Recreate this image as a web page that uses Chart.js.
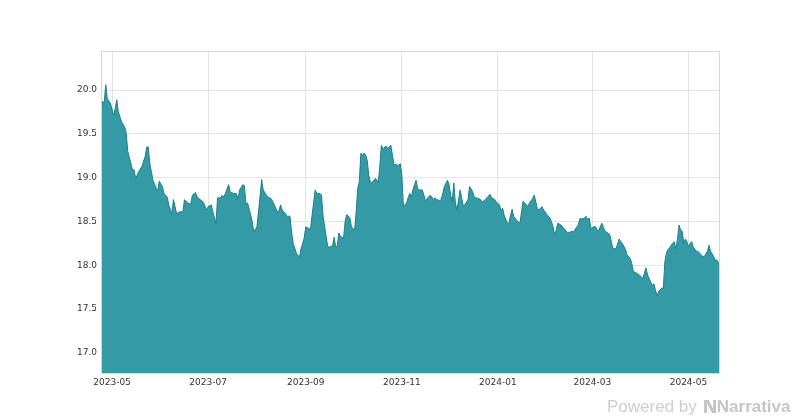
<!DOCTYPE html>
<html>
<head>
<meta charset="utf-8">
<script src="https://cdn.jsdelivr.net/npm/chart.js@4.4.1/dist/chart.umd.min.js"></script>
<style>
  body { margin: 0; background: #fff; }
  #wrap { position: relative; width: 800px; height: 420px; }
  #brand {
    position: absolute; left: 607px; top: 397px;
    font-family: "Liberation Sans", Arial, sans-serif; font-size: 17px; color: #cdcdcd;
    white-space: nowrap; line-height: 20px;
  }
  #brand svg { vertical-align: -1px; margin-left: 7px; margin-right: 1px; }
  #brand b { font-weight: bold; color: #c6c6c6; }
</style>
</head>
<body>
<div id="wrap">
  <canvas id="myChart" width="800" height="420"></canvas>
  <div id="brand">Powered by<svg width="12" height="13" viewBox="0 0 12 13"><path d="M0 0h3v13H0zM9 0h3v13H9zM1 0h3.5l7 13H8z" fill="#c6c6c6"/></svg><b>Narrativa</b></div>
</div>
<script>
const dates = [
  '2023-04-24','2023-04-25','2023-04-26','2023-04-27','2023-04-28','2023-04-30',
  '2023-05-02','2023-05-03','2023-05-04','2023-05-05','2023-05-07','2023-05-09','2023-05-10','2023-05-11','2023-05-13','2023-05-14','2023-05-15','2023-05-16','2023-05-18','2023-05-20','2023-05-22','2023-05-23','2023-05-24','2023-05-25','2023-05-26','2023-05-27','2023-05-29','2023-05-30','2023-05-31',
  '2023-06-02','2023-06-03','2023-06-05','2023-06-06','2023-06-08','2023-06-09','2023-06-10','2023-06-11','2023-06-13','2023-06-15','2023-06-16','2023-06-18','2023-06-20','2023-06-21','2023-06-23','2023-06-24','2023-06-26','2023-06-28','2023-06-30',
  '2023-07-01','2023-07-03','2023-07-04','2023-07-06','2023-07-07','2023-07-09','2023-07-10','2023-07-11','2023-07-12','2023-07-14','2023-07-15','2023-07-17','2023-07-19','2023-07-20','2023-07-21','2023-07-23','2023-07-24','2023-07-25','2023-07-26','2023-07-27','2023-07-29','2023-07-30',
  '2023-08-01','2023-08-02','2023-08-04','2023-08-05','2023-08-07','2023-08-08','2023-08-10','2023-08-11','2023-08-12','2023-08-14','2023-08-15','2023-08-16','2023-08-17','2023-08-19','2023-08-20','2023-08-22','2023-08-23','2023-08-24','2023-08-26','2023-08-28','2023-08-29','2023-08-31',
  '2023-09-01','2023-09-03','2023-09-04','2023-09-05','2023-09-07','2023-09-08','2023-09-10','2023-09-11','2023-09-12','2023-09-13','2023-09-15','2023-09-16','2023-09-18','2023-09-19','2023-09-20','2023-09-21','2023-09-22','2023-09-23','2023-09-25','2023-09-26','2023-09-27','2023-09-29','2023-09-30',
  '2023-10-02','2023-10-03','2023-10-04','2023-10-05','2023-10-06','2023-10-07','2023-10-08','2023-10-09','2023-10-10','2023-10-11','2023-10-12','2023-10-13','2023-10-15','2023-10-16','2023-10-17','2023-10-18','2023-10-19','2023-10-20','2023-10-22','2023-10-23','2023-10-25','2023-10-26','2023-10-27','2023-10-28','2023-10-30','2023-10-31',
  '2023-11-01','2023-11-02','2023-11-04','2023-11-05','2023-11-06','2023-11-07','2023-11-08','2023-11-10','2023-11-11','2023-11-12','2023-11-14','2023-11-15','2023-11-16','2023-11-17','2023-11-19','2023-11-20','2023-11-21','2023-11-22','2023-11-23','2023-11-25','2023-11-26','2023-11-27','2023-11-28','2023-11-30',
  '2023-12-01','2023-12-02','2023-12-03','2023-12-04','2023-12-05','2023-12-06','2023-12-08','2023-12-09','2023-12-10','2023-12-11','2023-12-13','2023-12-14','2023-12-16','2023-12-17','2023-12-18','2023-12-20','2023-12-21','2023-12-22','2023-12-24','2023-12-25','2023-12-27','2023-12-28','2023-12-30','2023-12-31',
  '2024-01-02','2024-01-03','2024-01-04','2024-01-05','2024-01-07','2024-01-08','2024-01-09','2024-01-10','2024-01-11','2024-01-13','2024-01-15','2024-01-16','2024-01-17','2024-01-18','2024-01-20','2024-01-21','2024-01-23','2024-01-24','2024-01-25','2024-01-26','2024-01-27','2024-01-29','2024-01-30','2024-01-31',
  '2024-02-01','2024-02-03','2024-02-04','2024-02-05','2024-02-06','2024-02-07','2024-02-08','2024-02-10','2024-02-11','2024-02-12','2024-02-13','2024-02-14','2024-02-16','2024-02-17','2024-02-18','2024-02-19','2024-02-21','2024-02-22','2024-02-24','2024-02-25','2024-02-26','2024-02-27','2024-02-28','2024-02-29',
  '2024-03-02','2024-03-03','2024-03-04','2024-03-05','2024-03-07','2024-03-08','2024-03-09','2024-03-10','2024-03-12','2024-03-13','2024-03-14','2024-03-15','2024-03-16','2024-03-18','2024-03-19','2024-03-20','2024-03-22','2024-03-23','2024-03-25','2024-03-26','2024-03-27','2024-03-29','2024-03-30',
  '2024-04-01','2024-04-02','2024-04-03','2024-04-04','2024-04-05','2024-04-07','2024-04-08','2024-04-09','2024-04-10','2024-04-11','2024-04-12','2024-04-14','2024-04-15','2024-04-16','2024-04-17','2024-04-18','2024-04-19','2024-04-20','2024-04-22','2024-04-23','2024-04-24','2024-04-25','2024-04-26','2024-04-27','2024-04-28','2024-04-29','2024-04-30',
  '2024-05-01','2024-05-02','2024-05-03','2024-05-04','2024-05-06','2024-05-07','2024-05-09','2024-05-10','2024-05-11','2024-05-13','2024-05-14','2024-05-15','2024-05-17','2024-05-18','2024-05-19','2024-05-20','2024-05-21'
];

const values = [
  19.75,19.87,19.85,20.06,19.90,19.85,
  19.71,19.79,19.89,19.75,19.64,19.58,19.51,19.30,19.16,19.09,19.09,18.99,19.07,19.13,19.24,19.35,19.35,19.16,19.07,18.97,18.88,18.85,18.96,
  18.90,18.82,18.78,18.69,18.59,18.75,18.67,18.59,18.61,18.61,18.75,18.71,18.70,18.80,18.83,18.78,18.75,18.72,18.63,
  18.67,18.69,18.61,18.48,18.77,18.77,18.80,18.78,18.82,18.92,18.84,18.82,18.82,18.75,18.86,18.92,18.91,18.71,18.71,18.65,18.50,18.38,
  18.44,18.61,18.98,18.86,18.80,18.78,18.76,18.73,18.69,18.61,18.62,18.69,18.63,18.59,18.56,18.56,18.38,18.25,18.14,18.09,18.19,18.31,
  18.44,18.42,18.41,18.57,18.86,18.82,18.82,18.80,18.56,18.44,18.21,18.21,18.22,18.32,18.21,18.22,18.37,18.33,18.31,18.50,18.58,18.54,18.44,
  18.40,18.61,18.88,18.95,19.28,19.25,19.28,19.26,19.20,19.03,18.95,18.94,18.99,18.98,18.94,19.13,19.37,19.33,19.36,19.33,19.37,19.26,19.15,19.15,19.14,19.16,
  19.03,18.67,18.71,18.77,18.82,18.78,18.86,18.97,18.88,18.86,18.86,18.80,18.73,18.76,18.80,18.78,18.75,18.77,18.75,18.74,18.75,18.82,18.90,18.97,
  18.92,18.80,18.73,18.94,18.71,18.63,18.86,18.77,18.68,18.69,18.75,18.90,18.84,18.78,18.77,18.76,18.75,18.72,18.75,18.77,18.81,18.77,18.75,18.72,
  18.69,18.62,18.65,18.57,18.48,18.48,18.57,18.64,18.56,18.51,18.48,18.61,18.73,18.71,18.67,18.71,18.76,18.80,18.73,18.65,18.63,18.67,18.63,18.61,
  18.58,18.54,18.50,18.44,18.35,18.40,18.48,18.46,18.44,18.42,18.40,18.37,18.38,18.39,18.38,18.41,18.46,18.53,18.53,18.54,18.56,18.52,18.54,18.42,
  18.44,18.44,18.40,18.40,18.48,18.43,18.39,18.38,18.35,18.27,18.19,18.19,18.19,18.30,18.27,18.25,18.18,18.12,18.08,18.02,17.93,17.91,17.90,
  17.87,17.85,17.91,17.97,17.89,17.81,17.77,17.79,17.72,17.65,17.70,17.74,17.74,18.04,18.14,18.18,18.20,18.23,18.27,18.18,18.30,18.46,18.40,18.39,18.25,18.30,18.27,
  18.21,18.25,18.27,18.21,18.16,18.16,18.12,18.10,18.10,18.16,18.23,18.16,18.10,18.06,18.06,18.03,18.02
];

const monthTicks = ['2023-05', '2023-07', '2023-09', '2023-11', '2024-01', '2024-03', '2024-05'];
const yTicks = [17.0, 17.5, 18.0, 18.5, 19.0, 19.5, 20.0];

const ctx = document.getElementById('myChart');

// thin frame round the plot area, like the original
const frame = {
    id: 'frame',
    afterDraw(chart) {
        const a = chart.chartArea;
        const c = chart.ctx;
        c.save();
        c.strokeStyle = '#d6d6d6';
        c.lineWidth = 1;
        c.strokeRect(a.left + 0.5, a.top + 0.5, a.right - a.left - 1, a.bottom - a.top - 1);
        c.restore();
    }
};

const points = dates.map((d, i) => ({ x: Date.parse(d), y: values[i] }));

new Chart(ctx, {
    type: 'line',
    data: {
        datasets: [{
            data: points,
            fill: 'start',
            backgroundColor: '#349aa6',
            borderColor: '#1f7f8b',
            borderWidth: 1,
            pointRadius: 0,
            tension: 0
        }]
    },
    options: {
        responsive: false,
        animation: false,
        events: [],
        layout: { padding: { top: 51, right: 80, left: 0, bottom: 0 } },
        plugins: { legend: { display: false }, tooltip: { enabled: false } },
        scales: {
            x: {
                type: 'linear',
                min: Date.parse('2023-04-24'),
                max: Date.parse('2024-05-21'),
                afterFit(axis) { axis.height = 46; },
                afterBuildTicks(axis) {
                    axis.ticks = monthTicks.map(m => ({ value: Date.parse(m + '-01') }));
                },
                ticks: {
                    autoSkip: false,
                    maxRotation: 0,
                    padding: 3,
                    color: '#333',
                    font: { family: 'DejaVu Sans', size: 9 },
                    callback: (v) => {
                        const d = new Date(v);
                        return d.getUTCFullYear() + '-' + String(d.getUTCMonth() + 1).padStart(2, '0');
                    }
                },
                grid: { color: '#e5e5e5', drawTicks: false },
                border: { display: false }
            },
            y: {
                min: 16.76,
                max: 20.445,
                afterFit(axis) { axis.width = 101; },
                afterBuildTicks(axis) {
                    axis.ticks = yTicks.map(v => ({ value: v }));
                },
                ticks: {
                    padding: 4,
                    color: '#333',
                    font: { family: 'DejaVu Sans', size: 9 },
                    callback: (v) => v.toFixed(1)
                },
                grid: { color: '#e5e5e5', drawTicks: false },
                border: { display: false }
            }
        }
    },
    plugins: [frame]
});
</script>
</body>
</html>
